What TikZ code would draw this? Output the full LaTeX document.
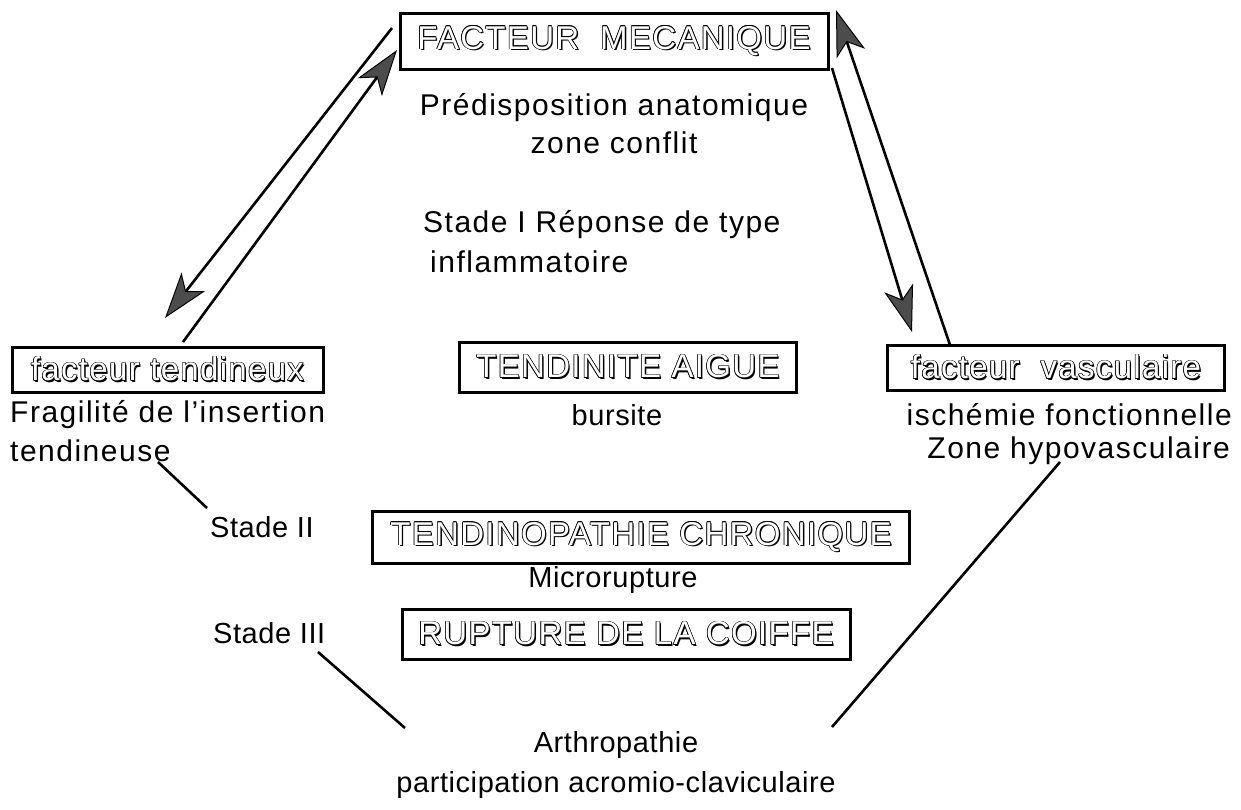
\documentclass[tikz,border=0pt]{standalone}
\usepackage{fontspec}
\setmainfont[LetterSpace=5]{Liberation Sans}
\newfontfamily\lowfont[LetterSpace=2]{Liberation Sans}
\newfontfamily\boxfont[LetterSpace=4]{Liberation Sans}
\usetikzlibrary{arrows.meta}
\newcommand\olt[1]{\leavevmode\setbox0\hbox{#1}%
\rlap{\kern1.4pt\lower1.4pt\copy0}%
\rlap{\kern0.65pt\copy0}\rlap{\kern-0.65pt\copy0}%
\rlap{\raise0.65pt\copy0}\rlap{\lower0.65pt\copy0}%
\rlap{\kern0.5pt\raise0.5pt\copy0}\rlap{\kern-0.5pt\raise0.5pt\copy0}%
\rlap{\kern0.5pt\lower0.5pt\copy0}\rlap{\kern-0.5pt\lower0.5pt\copy0}%
\hbox{\color{white}#1}}
\tikzset{
  txt/.style={font=\fontsize{30}{36}\selectfont, inner sep=0pt},
  txtb/.style={font=\lowfont\fontsize{29}{35}\selectfont, inner sep=0pt},
  boxn/.style={draw, line width=3pt, inner sep=0pt, font=\boxfont\fontsize{33}{38}\selectfont},
  edge/.style={line width=2.6pt},
  arr/.style={line width=2.6pt, -{Stealth[length=46pt,width=30pt,inset=12pt,fill=black!70,line width=1pt]}}
}
\begin{document}
\begin{tikzpicture}[x=1pt,y=-1pt]
\useasboundingbox (0,0) rectangle (1241,809);
% boxes
\node[boxn, minimum width=428, minimum height=56] (meca) at (614,41) {\olt{FACTEUR\ \ MECANIQUE}};
\node[boxn, minimum width=311, minimum height=45] (tend) at (167.5,369.5) {\olt{facteur tendineux}};
\node[boxn, minimum width=337, minimum height=45] (vasc) at (1056,367.5) {\olt{facteur\ \ vasculaire}};
\node[boxn, minimum width=337, minimum height=50] (aigue) at (628,367) {\olt{TENDINITE AIGUE}};
\node[boxn, minimum width=537, minimum height=52] (chron) at (641,537) {\olt{TENDINOPATHIE CHRONIQUE}};
\node[boxn, minimum width=448, minimum height=50] (rupt) at (626,634) {\olt{RUPTURE DE LA COIFFE}};
% texts
\node[txt] (predis) at (614,108) {Prédisposition anatomique};
\node[txt] (zone) at (614,143) {zone conflit};
\node[txt, anchor=west] (stade1) at (423,225) {Stade I Réponse de type};
\node[txt, anchor=west] (inflam) at (430,262) {inflammatoire};
\node[txt, anchor=west] (fragil) at (10,415) {Fragilité de l'insertion};
\node[txt, anchor=west] (tendin) at (10,451) {tendineuse};
\node[txtb] (bursite) at (617,415) {bursite};
\node[txt, anchor=east] (ischem) at (1232,415) {ischémie fonctionnelle};
\node[txt, anchor=east] (hypo) at (1230,451) {Zone hypovasculaire};
\node[txtb, anchor=west] (stade2) at (210,527) {Stade II};
\node[txtb] (micro) at (613,580) {Microrupture};
\node[txtb, anchor=west] (stade3) at (213,633) {Stade III};
\node[txtb] (arthro) at (616,745) {Arthropathie};
\node[txtb] (partic) at (616,785) {participation acromio-claviculaire};
% connector end points
\coordinate (lo1) at (392,28);
\coordinate (lo2) at (165,318);
\coordinate (li1) at (183,342);
\coordinate (li2) at (397,50);
\coordinate (ri1) at (832,68);
\coordinate (ri2) at (912,332);
\coordinate (ro1) at (950,345);
\coordinate (ro2) at (836,10);
\coordinate (bl1) at (158,462);
\coordinate (bl2) at (207,508);
\coordinate (bl3) at (318,652);
\coordinate (bl4) at (405,728);
\coordinate (br1) at (1060,462);
\coordinate (br2) at (832,727);
% arrows
\draw[arr] (lo1) -- (lo2);
\draw[arr] (li1) -- (li2);
\draw[arr] (ri1) -- (ri2);
\draw[arr] (ro1) -- (ro2);
% plain lines
\draw[edge] (bl1) -- (bl2);
\draw[edge] (bl3) -- (bl4);
\draw[edge] (br1) -- (br2);
\end{tikzpicture}
\end{document}
